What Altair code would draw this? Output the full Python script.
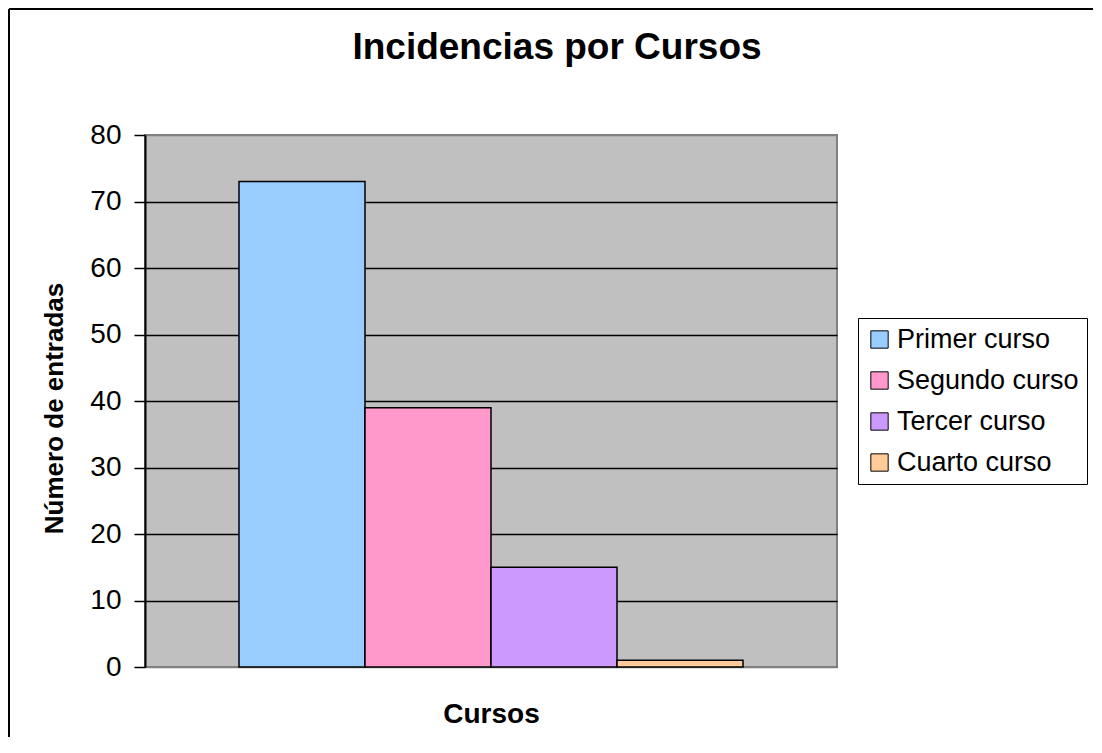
import altair as alt
import pandas as pd

cursos = ["Primer curso", "Segundo curso", "Tercer curso", "Cuarto curso"]
entradas = [73, 39, 15, 1]
colores = ["#99CCFF", "#FF99CC", "#CC99FF", "#FFCC99"]
y_ticks = [0, 10, 20, 30, 40, 50, 60, 70, 80]

df = pd.DataFrame({"curso": cursos, "entradas": entradas})

FONT = "Liberation Sans"
W, H = 692, 532

bars = alt.Chart(df).mark_bar(stroke="black", strokeWidth=1.5).encode(
    x=alt.X(
        "curso:N",
        sort=cursos,
        scale=alt.Scale(paddingInner=0, paddingOuter=0.746),
        axis=alt.Axis(
            title="Cursos", labels=False, ticks=False, domain=False,
            titleFont=FONT, titleFontSize=28, titleFontWeight="bold",
            titleColor="black", titleBaseline="alphabetic", titleY=55,
        ),
    ),
    y=alt.Y(
        "entradas:Q",
        scale=alt.Scale(domain=[0, 80], nice=False),
        axis=alt.Axis(
            title="Número de entradas", values=y_ticks,
            labelFont=FONT, labelFontSize=28, labelColor="black", labelPadding=13,
            tickSize=11, tickColor="black", tickWidth=1.5,
            domainColor="black", domainWidth=2,
            grid=True,
            gridColor=alt.condition("datum.value == 80 || datum.value == 0",
                                    alt.value("#808080"), alt.value("black")),
            gridWidth=1.5,
            titleFont=FONT, titleFontSize=26, titleFontWeight="bold",
            titleColor="black", titleAngle=-90, titleBaseline="alphabetic",
            titleX=-83, titleY=273,
        ),
    ),
    fill=alt.Fill(
        "curso:N",
        sort=cursos,
        scale=alt.Scale(domain=cursos, range=colores),
        legend=alt.Legend(
            title=None, orient="none", legendX=713, legendY=183,
            strokeColor="black", fillColor="white", padding=8,
            labelFont=FONT, labelFontSize=27, labelColor="black", labelLimit=400,
            symbolType="square", symbolSize=300, symbolStrokeColor="black",
            symbolStrokeWidth=1, rowPadding=13, labelOffset=4,
        ),
    ),
)

one = alt.Data(values=[{}])
border_top = alt.Chart(one).mark_rule(color="black", strokeWidth=2).encode(
    x=alt.value(-136), x2=alt.value(W + 256), y=alt.value(-126),
)
border_left = alt.Chart(one).mark_rule(color="black", strokeWidth=2).encode(
    x=alt.value(-136), y=alt.value(-126), y2=alt.value(H + 300),
)

chart = alt.layer(bars, border_top, border_left).properties(
    width=W, height=H,
    title=alt.TitleParams(
        "Incidencias por Cursos", font=FONT, fontSize=37, fontWeight="bold",
        color="black", anchor="middle", frame="group", baseline="alphabetic",
        offset=-88, dx=66,
    ),
    autosize=alt.AutoSizeParams(type="none"),
    padding={"left": 137, "top": 127, "right": 257, "bottom": 70},
).configure(
    background="white"
).configure_view(
    fill="#C0C0C0", stroke="#808080", strokeWidth=2
)

chart.save("out.html", embed_options={"renderer": "svg", "actions": False})
